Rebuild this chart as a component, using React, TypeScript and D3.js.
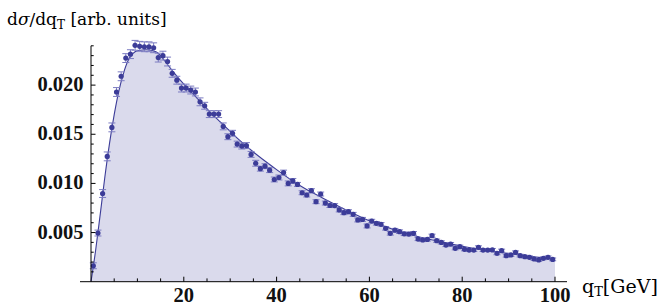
import * as d3 from "d3";

// measured spectrum, one point per 1 GeV bin (units of 1e-3)
const binCenters = d3.range(0.5, 100, 1);
const measured = [
	1.62, 4.95, 8.97, 12.75, 15.7, 19.3, 20.9, 22.75, 23.15, 24.05,
	23.95, 23.9, 23.9, 23.8, 22.8, 23.0, 22.4, 21.2, 20.5, 19.7,
	19.7, 19.5, 19.3, 18.3, 17.9, 17.05, 17.05, 17.05, 15.8, 14.75,
	15.1, 14.0, 13.8, 13.85, 12.95, 12.05, 11.5, 11.75, 11.35, 10.4,
	10.6, 11.1, 10.0, 10.25, 9.9, 9.05, 8.82, 9.26, 8.14, 8.92,
	8.0, 7.75, 7.74, 7.3, 7.02, 7.12, 6.85, 6.28, 6.34, 5.67,
	6.17, 5.94, 5.84, 5.43, 4.92, 5.24, 5.09, 4.87, 4.85, 4.92,
	4.34, 4.24, 4.3, 4.68, 4.17, 4.0, 3.73, 3.83, 3.4, 3.56,
	3.29, 3.22, 3.22, 3.5, 3.22, 3.22, 3.23, 2.89, 3.16, 2.65,
	2.72, 2.99, 2.65, 2.55, 2.48, 2.31, 2.21, 2.38, 2.48, 2.27,
];
const errors = [
	0.3, 0.3, 0.4, 0.45, 0.45, 0.45, 0.45, 0.45, 0.45, 0.5,
	0.5, 0.5, 0.5, 0.5, 0.45, 0.45, 0.45, 0.4, 0.4, 0.4,
	0.4, 0.4, 0.4, 0.4, 0.35, 0.35, 0.35, 0.35, 0.35, 0.3,
	0.3, 0.3, 0.3, 0.3, 0.3, 0.3, 0.25, 0.25, 0.25, 0.25,
	0.25, 0.25, 0.25, 0.25, 0.2, 0.2, 0.2, 0.2, 0.2, 0.2,
	0.2, 0.2, 0.2, 0.2, 0.2, 0.2, 0.2, 0.2, 0.2, 0.2,
	0.18, 0.18, 0.18, 0.18, 0.18, 0.18, 0.18, 0.18, 0.18, 0.18,
	0.16, 0.16, 0.16, 0.16, 0.16, 0.16, 0.16, 0.16, 0.16, 0.16,
	0.15, 0.15, 0.15, 0.15, 0.15, 0.15, 0.15, 0.15, 0.15, 0.15,
	0.14, 0.14, 0.14, 0.14, 0.14, 0.14, 0.14, 0.14, 0.14, 0.14,
];

// theory curve knots (qT, value in 1e-3)
const curveQt = [0, 1, 2, 3, 4, 5, 6, 7, 8, 9, 10, 12, 14, 15, 16, 18, 20, 22, 24, 26, 28, 30, 32, 35, 38, 40, 43, 46, 50, 55, 60, 65, 70, 75, 80, 85, 90, 95, 100];
const curveVal = [0, 3.2, 6.9, 10.7, 14.1, 17.0, 19.4, 21.2, 22.5, 23.2, 23.5, 23.6, 23.4, 23.0, 22.4, 21.2, 20.1, 19.1, 18.1, 17.1, 16.2, 15.3, 14.4, 13.2, 12.1, 11.4, 10.4, 9.5, 8.5, 7.3, 6.2, 5.35, 4.65, 4.1, 3.6, 3.2, 2.88, 2.55, 2.3];

const xTickLabels = [20, 40, 60, 80, 100];
const yTickLabels = [0.005, 0.01, 0.015, 0.02];

const W = 658;
const H = 305;
const TICK_FONT = "'Liberation Serif', 'Times New Roman', serif";
const LABEL_FONT = "'DejaVu Serif', serif";
const DARK = "#3c3c98";

export default function App() {
	const x = d3.scaleLinear().domain([0, 100]).range([91, 555]);
	const y = d3.scaleLinear().domain([0, 0.024]).range([281.7, 45.8]);

	const pts = measured.map((v, i) => ({ q: binCenters[i], v: v / 1000, e: errors[i] / 1000 }));
	const curvePts = curveQt.map((q, i) => [q, curveVal[i] / 1000] as [number, number]);

	const area = d3
		.area<[number, number]>()
		.x((d) => x(d[0]))
		.y0(y(0))
		.y1((d) => y(d[1]))
		.curve(d3.curveMonotoneX);
	const line = d3
		.line<[number, number]>()
		.x((d) => x(d[0]))
		.y((d) => y(d[1]))
		.curve(d3.curveMonotoneX);

	//minor ticks every 5 GeV and every 0.001
	const xMinor = d3.range(5, 101, 5);
	const yMinor = d3.range(1, 25).map((k) => k / 1000);

	return (
		<svg width={W} height={H} style={{ position: "absolute", left: 0, top: 0, background: "white" }}>
			<path d={area(curvePts) || ""} fill="#dadaec" />
			<path d={line(curvePts) || ""} fill="none" stroke={DARK} strokeWidth={1.1} />

			{/* error bars */}
			<g stroke="#7c7cc2" strokeWidth={1}>
				{pts.map((d, i) => (
					<g key={i}>
						<line x1={x(d.q)} x2={x(d.q)} y1={y(d.v - d.e)} y2={y(d.v + d.e)} />
						<line x1={x(d.q) - 3.5} x2={x(d.q) + 3.5} y1={y(d.v - d.e)} y2={y(d.v - d.e)} />
						<line x1={x(d.q) - 3.5} x2={x(d.q) + 3.5} y1={y(d.v + d.e)} y2={y(d.v + d.e)} />
					</g>
				))}
			</g>
			<g fill={DARK}>
				{pts.map((d, i) => (
					<circle key={i} cx={x(d.q)} cy={y(d.v)} r={2.6} />
				))}
			</g>

			{/* axes */}
			<g stroke="black" strokeWidth={1}>
				<line x1={80} x2={567} y1={y(0)} y2={y(0)} />
				<line x1={x(0)} x2={x(0)} y1={y(0)} y2={y(0.024)} />
				{xMinor.map((t) => (
					<line key={t} x1={x(t)} x2={x(t)} y1={y(0)} y2={y(0) - (t % 20 === 0 ? 5 : 3.3)} />
				))}
				{yMinor.map((t, i) => (
					<line key={i} x1={x(0)} x2={x(0) + ((i + 1) % 5 === 0 ? 4.5 : 2.7)} y1={y(t)} y2={y(t)} />
				))}
			</g>
			<g fontFamily={TICK_FONT} fontWeight="bold" fontSize={20.5} fill="#111">
				{xTickLabels.map((t) => (
					<text key={t} x={x(t)} y={302} textAnchor="middle">{t}</text>
				))}
				{yTickLabels.map((t) => (
					<text key={t} x={83.5} y={y(t) - 1} dy="0.34em" textAnchor="end">{t.toFixed(3)}</text>
				))}
			</g>
			<text x={7} y={25} fontFamily={LABEL_FONT} fontSize={17}>
				d<tspan fontStyle="italic">σ</tspan>/dq<tspan fontSize={12} dy={4}>T</tspan>
				<tspan dy={-4}> [arb. units]</tspan>
			</text>
			<text x={582} y={293} fontFamily={LABEL_FONT} fontSize={19}>
				q<tspan fontSize={13} dy={3}>T</tspan>
				<tspan dy={-3}>[GeV]</tspan>
			</text>
		</svg>
	);
}
